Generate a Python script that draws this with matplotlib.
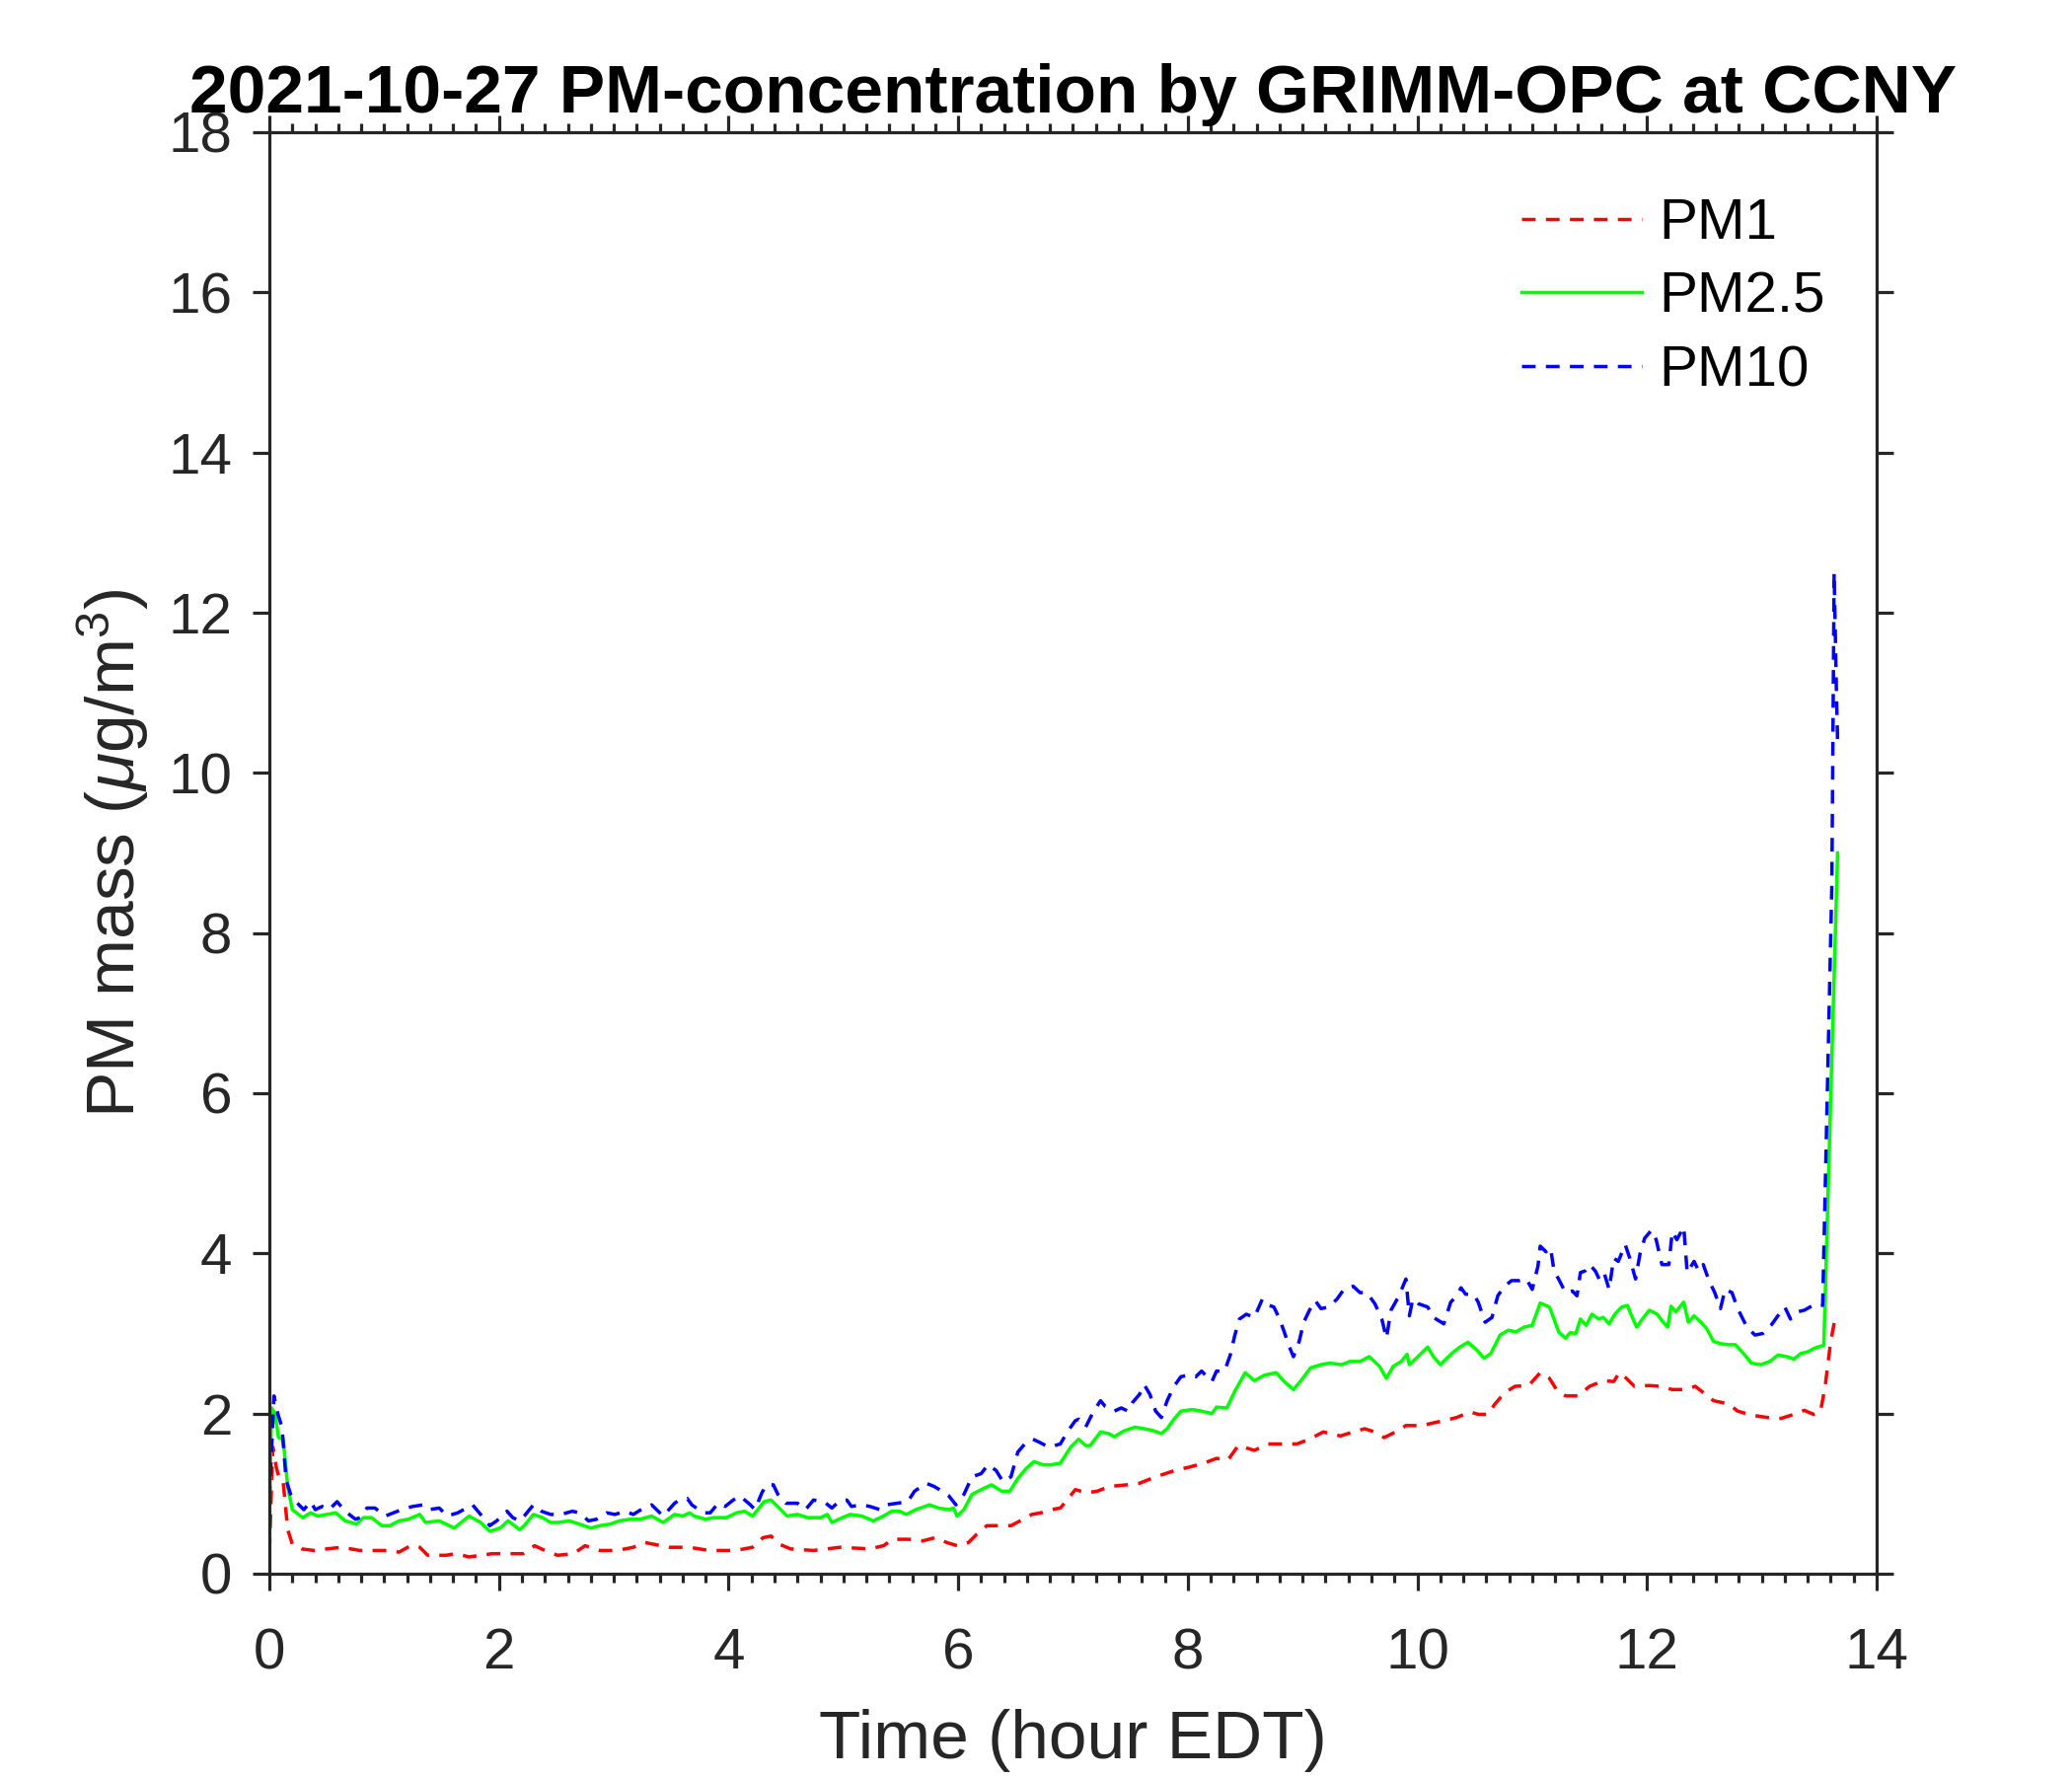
import matplotlib
matplotlib.use('Agg')
import matplotlib.pyplot as plt
from matplotlib.ticker import MultipleLocator

plt.rcParams['font.family'] = ['Liberation Sans', 'DejaVu Sans']
plt.rcParams['mathtext.fontset'] = 'custom'
plt.rcParams['mathtext.rm'] = 'Liberation Sans'
plt.rcParams['mathtext.it'] = 'Liberation Sans:italic'

# PM1
pm1_t = [0.0, 0.03, 0.06, 0.09, 0.12, 0.16, 0.20, 0.28, 0.39, 0.50, 0.63, 0.79, 0.91, 1.03, 1.13,
         1.23, 1.31, 1.38, 1.54, 1.62, 1.74, 1.94, 2.11, 2.21, 2.31, 2.40, 2.51, 2.65, 2.75, 2.88,
         3.03, 3.17, 3.27, 3.34, 3.48, 3.66, 3.83, 4.06, 4.21, 4.30, 4.37, 4.44, 4.54, 4.74, 4.97,
         5.23, 5.35, 5.43, 5.57, 5.69, 5.80, 5.90, 5.99, 6.09, 6.16, 6.25, 6.35, 6.46, 6.54, 6.64,
         6.72, 6.81, 6.89, 6.96, 7.02, 7.12, 7.21, 7.32, 7.47, 7.58, 7.72, 7.89, 8.01, 8.14, 8.25,
         8.35, 8.44, 8.58, 8.70, 8.81, 8.95, 9.06, 9.18, 9.33, 9.44, 9.54, 9.63, 9.71, 9.81, 9.90,
         10.04, 10.16, 10.26, 10.34, 10.46, 10.53, 10.62, 10.67, 10.76, 10.85, 10.97, 11.07, 11.15,
         11.22, 11.29, 11.40, 11.50, 11.62, 11.71, 11.76, 11.82, 11.89, 12.02, 12.11, 12.22, 12.34,
         12.42, 12.51, 12.58, 12.71, 12.79, 12.91, 13.05, 13.17, 13.28, 13.37, 13.45, 13.51, 13.55,
         13.60, 13.64]
pm1 = [0.27, 1.58, 1.33, 1.17, 1.15, 0.55, 0.37, 0.31, 0.29, 0.31, 0.33, 0.29, 0.29, 0.29, 0.27,
       0.35, 0.33, 0.23, 0.23, 0.25, 0.21, 0.25, 0.25, 0.25, 0.35, 0.29, 0.23, 0.25, 0.35, 0.29,
       0.29, 0.33, 0.39, 0.37, 0.33, 0.33, 0.29, 0.29, 0.33, 0.45, 0.47, 0.37, 0.31, 0.29, 0.33,
       0.31, 0.35, 0.43, 0.43, 0.41, 0.45, 0.39, 0.35, 0.39, 0.49, 0.60, 0.60, 0.60, 0.66, 0.74,
       0.76, 0.80, 0.82, 0.94, 1.05, 1.01, 1.03, 1.09, 1.11, 1.13, 1.21, 1.29, 1.33, 1.38, 1.44,
       1.42, 1.60, 1.54, 1.62, 1.62, 1.62, 1.68, 1.77, 1.72, 1.77, 1.81, 1.77, 1.70, 1.77, 1.85,
       1.85, 1.89, 1.92, 1.95, 2.02, 1.99, 1.99, 2.11, 2.26, 2.34, 2.35, 2.51, 2.44,
       2.28, 2.22, 2.22, 2.34, 2.41, 2.40, 2.51, 2.44, 2.34, 2.35, 2.34, 2.30, 2.30,
       2.34, 2.24, 2.16, 2.12, 2.03, 1.98, 1.95, 1.94, 1.99, 2.04, 1.99, 2.02, 2.32,
       2.90, 3.20]

# PM2.5
pm25_t = [0.0, 0.02, 0.05, 0.08, 0.12, 0.16, 0.20, 0.29, 0.36, 0.42, 0.50, 0.58, 0.66, 0.76, 0.82,
          0.89, 0.98, 1.05, 1.13, 1.21, 1.31, 1.36, 1.48, 1.61, 1.74, 1.84, 1.92, 2.01, 2.08, 2.18,
          2.22, 2.30, 2.38, 2.45, 2.52, 2.61, 2.70, 2.80, 2.88, 2.97, 3.05, 3.14, 3.23, 3.33, 3.43,
          3.53, 3.60, 3.66, 3.70, 3.80, 3.87, 3.98, 4.07, 4.14, 4.21, 4.31, 4.37, 4.44, 4.51, 4.60,
          4.69, 4.80, 4.86, 4.90, 4.99, 5.06, 5.16, 5.26, 5.35, 5.42, 5.49, 5.55, 5.63, 5.75, 5.83,
          5.92, 5.96, 5.99, 6.05, 6.12, 6.20, 6.29, 6.38, 6.45, 6.52, 6.59, 6.66, 6.74, 6.81, 6.89,
          6.98, 7.05, 7.11, 7.15, 7.24, 7.31, 7.36, 7.44, 7.54, 7.62, 7.69, 7.77, 7.82, 7.88, 7.94,
          8.04, 8.12, 8.21, 8.25, 8.34, 8.41, 8.50, 8.58, 8.67, 8.77, 8.84, 8.92, 8.98, 9.07, 9.16,
          9.24, 9.34, 9.41, 9.50, 9.58, 9.67, 9.73, 9.79, 9.86, 9.91, 9.93, 9.99, 10.09, 10.14,
          10.20, 10.30, 10.37, 10.44, 10.52, 10.58, 10.64, 10.72, 10.79, 10.86, 10.93, 11.00, 11.07,
          11.15, 11.19, 11.23, 11.29, 11.33, 11.38, 11.42, 11.47, 11.52, 11.58, 11.62, 11.67, 11.72,
          11.78, 11.83, 11.86, 11.91, 11.96, 12.02, 12.09, 12.13, 12.18, 12.21, 12.25, 12.32, 12.36,
          12.41, 12.47, 12.52, 12.58, 12.65, 12.71, 12.77, 12.84, 12.91, 12.99, 13.07, 13.14, 13.22,
          13.28, 13.34, 13.40, 13.45, 13.51, 13.54, 13.66]
pm25 = [0.76, 2.07, 1.99, 1.70, 1.68, 1.09, 0.80, 0.70, 0.76, 0.72, 0.74, 0.76, 0.66, 0.62, 0.70,
        0.70, 0.60, 0.60, 0.66, 0.68, 0.74, 0.64, 0.66, 0.57, 0.72, 0.64, 0.53, 0.57, 0.66, 0.55,
        0.60, 0.74, 0.70, 0.64, 0.64, 0.66, 0.62, 0.57, 0.60, 0.62, 0.66, 0.68, 0.68, 0.72, 0.64,
        0.74, 0.72, 0.76, 0.72, 0.68, 0.70, 0.70, 0.76, 0.78, 0.72, 0.90, 0.92, 0.82, 0.72, 0.74,
        0.70, 0.70, 0.74, 0.64, 0.70, 0.74, 0.72, 0.66, 0.72, 0.78, 0.78, 0.74, 0.80, 0.86, 0.82,
        0.80, 0.82, 0.72, 0.80, 0.99, 1.05, 1.11, 1.03, 1.03, 1.19, 1.31, 1.40, 1.36, 1.36, 1.38,
        1.58, 1.68, 1.60, 1.60, 1.77, 1.75, 1.71, 1.78, 1.83, 1.81, 1.79, 1.75, 1.81, 1.93, 2.03,
        2.05, 2.03, 2.00, 2.08, 2.07, 2.28, 2.51, 2.41, 2.48, 2.51, 2.40, 2.30, 2.40, 2.57, 2.61,
        2.63, 2.61, 2.65, 2.65, 2.71, 2.59, 2.44, 2.59, 2.65, 2.74, 2.61, 2.69, 2.83, 2.71,
        2.61, 2.75, 2.83, 2.89, 2.79, 2.69, 2.75, 2.98, 3.04, 3.02, 3.08, 3.10, 3.38,
        3.33, 3.18, 3.02, 2.94, 3.01, 3.00, 3.18, 3.10, 3.24, 3.18, 3.20, 3.12, 3.24,
        3.33, 3.35, 3.24, 3.08, 3.18, 3.29, 3.24, 3.16, 3.08, 3.34, 3.27, 3.39, 3.14,
        3.22, 3.14, 3.06, 2.90, 2.87, 2.86, 2.86, 2.75, 2.63, 2.61, 2.65, 2.73, 2.71,
        2.68, 2.75, 2.77, 2.81, 2.84, 2.85, 9.0]

# PM10
pm10_t = [0.0, 0.04, 0.075, 0.11, 0.146, 0.19, 0.23, 0.30, 0.36, 0.40, 0.46, 0.52, 0.59, 0.66, 0.75,
          0.79, 0.85, 0.92, 1.01, 1.08, 1.19, 1.25, 1.34, 1.39, 1.48, 1.55, 1.64, 1.77, 1.84, 1.92,
          1.98, 2.07, 2.12, 2.18, 2.22, 2.30, 2.37, 2.45, 2.54, 2.64, 2.70, 2.78, 2.85, 2.94, 3.01,
          3.10, 3.17, 3.26, 3.33, 3.43, 3.53, 3.57, 3.64, 3.68, 3.78, 3.84, 3.91, 3.97, 4.04, 4.10,
          4.19, 4.23, 4.29, 4.33, 4.39, 4.43, 4.50, 4.60, 4.67, 4.74, 4.83, 4.90, 4.96, 5.03, 5.07,
          5.16, 5.23, 5.32, 5.37, 5.47, 5.56, 5.62, 5.72, 5.79, 5.86, 5.92, 5.98, 6.05, 6.12, 6.20,
          6.26, 6.33, 6.39, 6.46, 6.52, 6.58, 6.65, 6.71, 6.79, 6.89, 6.95, 7.02, 7.05, 7.11, 7.18,
          7.24, 7.28, 7.36, 7.42, 7.48, 7.52, 7.58, 7.62, 7.67, 7.72, 7.77, 7.82, 7.88, 7.94, 8.01,
          8.07, 8.12, 8.21, 8.25, 8.32, 8.37, 8.41, 8.45, 8.51, 8.58, 8.65, 8.71, 8.75, 8.80, 8.84,
          8.88, 8.92, 8.97, 9.01, 9.06, 9.11, 9.16, 9.23, 9.30, 9.36, 9.44, 9.50, 9.56, 9.63, 9.69,
          9.73, 9.77, 9.84, 9.90, 9.93, 9.96, 10.01, 10.09, 10.14, 10.23, 10.29, 10.33, 10.38, 10.42,
          10.49, 10.53, 10.59, 10.65, 10.70, 10.76, 10.82, 10.89, 10.95, 11.00, 11.05, 11.07, 11.12,
          11.16, 11.19, 11.23, 11.29, 11.35, 11.39, 11.42, 11.46, 11.50, 11.55, 11.59, 11.63, 11.67,
          11.71, 11.75, 11.81, 11.85, 11.90, 11.94, 11.98, 12.04, 12.08, 12.13, 12.19, 12.22, 12.26,
          12.32, 12.35, 12.41, 12.45, 12.49, 12.54, 12.59, 12.64, 12.68, 12.74, 12.79, 12.87, 12.94,
          13.01, 13.08, 13.14, 13.20, 13.25, 13.31, 13.37, 13.42, 13.48, 13.53, 13.57, 13.61, 13.63,
          13.65, 13.66]
pm10 = [0.92, 2.22, 1.99, 1.83, 1.17, 0.97, 0.90, 0.80, 0.90, 0.80, 0.84, 0.80, 0.90, 0.78, 0.68,
        0.70, 0.82, 0.82, 0.72, 0.76, 0.82, 0.84, 0.86, 0.80, 0.82, 0.72, 0.76, 0.86, 0.74, 0.60,
        0.66, 0.78, 0.70, 0.66, 0.72, 0.86, 0.78, 0.74, 0.74, 0.78, 0.76, 0.66, 0.68, 0.76, 0.74,
        0.78, 0.74, 0.82, 0.86, 0.72, 0.88, 0.92, 0.94, 0.86, 0.76, 0.76, 0.88, 0.84, 0.92, 0.97,
        0.86, 0.80, 1.01, 1.11, 1.11, 0.99, 0.88, 0.88, 0.80, 0.92, 0.90, 0.82, 0.90, 0.92, 0.84,
        0.86, 0.84, 0.80, 0.86, 0.88, 0.90, 1.03, 1.13, 1.09, 1.03, 0.97, 0.86, 0.99, 1.21, 1.25,
        1.36, 1.29, 1.15, 1.21, 1.52, 1.62, 1.68, 1.64, 1.58, 1.62, 1.77, 1.91, 1.93, 1.83, 2.03,
        2.16, 2.09, 2.03, 2.07, 2.03, 2.14, 2.24, 2.36, 2.24, 2.03, 1.95, 2.16, 2.34, 2.46, 2.48,
        2.46, 2.53, 2.40, 2.53, 2.53, 2.73, 2.98, 3.18, 3.24, 3.20, 3.43, 3.35, 3.33, 3.18, 3.02,
        2.85, 2.71, 2.90, 3.14, 3.29, 3.41, 3.31, 3.33, 3.43, 3.55, 3.59, 3.51, 3.51, 3.37, 3.18,
        2.94, 3.29, 3.47, 3.68, 3.22, 3.43, 3.37, 3.33, 3.20, 3.12, 3.39, 3.45, 3.57, 3.49,
        3.49, 3.39, 3.14, 3.20, 3.47, 3.59, 3.66, 3.66, 3.68, 3.55, 3.84, 4.09, 4.02,
        4.07, 3.78, 3.68, 3.51, 3.53, 3.47, 3.76, 3.78, 3.86, 3.78, 3.66, 3.74, 3.55,
        3.94, 3.90, 4.11, 3.94, 3.68, 4.00, 4.19, 4.29, 4.17, 3.86, 3.86, 4.27, 4.17,
        4.33, 3.76, 3.90, 3.78, 3.86, 3.66, 3.51, 3.31, 3.55, 3.51, 3.31, 3.08, 2.98,
        3.00, 3.10, 3.22, 3.33, 3.18, 3.27, 3.29, 3.33, 3.37, 3.35, 6.0, 8.6, 12.5,
        11.0, 10.4]

tick_color = '#262626'
dash = (0, (4.0, 3.0))

fig = plt.figure(figsize=(21, 18), dpi=100)
ax = fig.add_axes([0.130, 0.1139, 0.7757, 0.8117])

ax.plot(pm1_t, pm1, color='#ff0000', linestyle=dash, linewidth=2.5, label='PM1')
ax.plot(pm25_t, pm25, color='#00ff00', linestyle='-', linewidth=2.5, label='PM2.5')
ax.plot(pm10_t, pm10, color='#0000ff', linestyle=dash, linewidth=2.5, label='PM10')

ax.set_xlim(0, 14)
ax.set_ylim(0, 18)
ax.xaxis.set_major_locator(MultipleLocator(2))
ax.xaxis.set_minor_locator(MultipleLocator(0.2))
ax.yaxis.set_major_locator(MultipleLocator(2))

for sp in ax.spines.values():
    sp.set_linewidth(2.3)
    sp.set_color(tick_color)

ax.tick_params(which='both', direction='out', top=True, right=True,
               color=tick_color, width=2.3)
ax.tick_params(which='major', length=12.2, labelsize=42, labelcolor=tick_color)
ax.tick_params(which='minor', length=6.5)
ax.tick_params(axis='x', which='major', pad=27)
ax.tick_params(axis='y', which='major', pad=15)

ax.set_xlabel('Time (hour EDT)', fontsize=50, color=tick_color)
ax.set_ylabel(r'PM mass ($\mu$g/m$^3$)', fontsize=50, color=tick_color)
ax.xaxis.set_label_coords(0.5, -0.0935)
ax.yaxis.set_label_coords(-0.0737, 0.5)

ax.text(0.5, 1.0135, '2021-10-27 PM-concentration by GRIMM-OPC at CCNY',
        transform=ax.transAxes, ha='center', va='baseline',
        fontsize=50, fontweight='bold', color='black')

ax.legend(loc='upper left', bbox_to_anchor=(0.7788, 0.9545), frameon=False,
          fontsize=42, handlelength=2.09, handletextpad=0.31, labelspacing=0.35,
          borderpad=0, borderaxespad=0)

fig.savefig('out.png', dpi=100)
